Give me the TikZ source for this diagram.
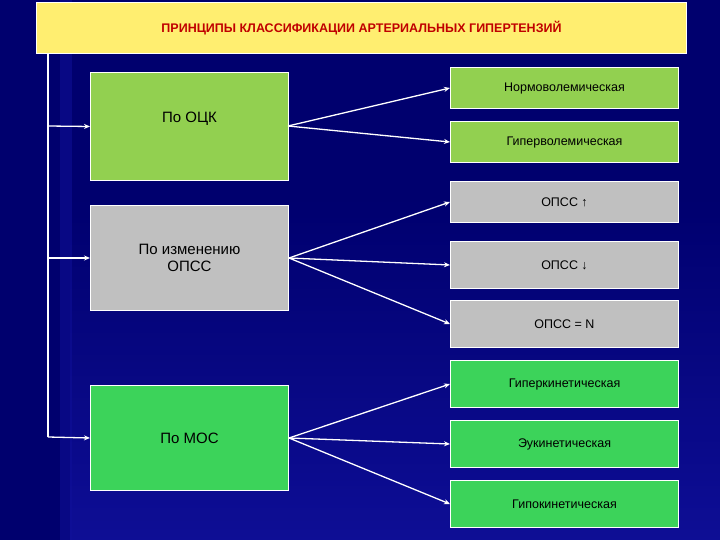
\documentclass[tikz,border=0pt]{standalone}
\usepackage{fontspec}
\setmainfont{Liberation Sans}
\usetikzlibrary{arrows.meta}
\definecolor{navy}{HTML}{00006E}
\definecolor{navyl}{HTML}{10109A}
\definecolor{ttl}{HTML}{FFEE70}
\definecolor{ttlred}{HTML}{C00000}
\definecolor{lgreen}{HTML}{92D050}
\definecolor{bgreen}{HTML}{3CD35A}
\definecolor{lgray}{HTML}{C0C0C0}
\tikzset{
 box/.style={draw=white, line width=1pt, anchor=north west, inner sep=0pt, align=center, font=\fontsize{15}{17}\selectfont},
 rbox/.style={draw=white, line width=1pt, anchor=north west, minimum width=228pt, inner sep=0pt, align=center, font=\fontsize{12.5}{14}\selectfont},
 arr/.style={white, line width=1.3pt, -{Stealth[length=6pt,width=5pt]}}
}
\begin{document}
\begin{tikzpicture}[x=1pt,y=-1pt]
\useasboundingbox (0,0) rectangle (720,540);
\fill[navy] (0,0) rectangle (720,540);
\shade[top color=navy, bottom color=navyl, opacity=0.9] (70,190) rectangle (720,540);
\fill[navyl,opacity=0.5] (60,0) rectangle (72,540);
\node[box, fill=ttl, minimum width=650pt, minimum height=51pt, font=\bfseries\fontsize{12.5}{14}\selectfont, text=ttlred] (t) at (36,2) {ПРИНЦИПЫ КЛАССИФИКАЦИИ АРТЕРИАЛЬНЫХ ГИПЕРТЕНЗИЙ};
\coordinate (top) at (48,53);
\coordinate (bot) at (48,437);
\draw[white, line width=1.3pt] (top) -- (bot);
\node[box, fill=lgreen, minimum width=198pt, minimum height=108pt] (a) at (90,72) {\raisebox{18pt}{По ОЦК}};
\node[box, fill=lgray, minimum width=198pt, minimum height=105pt] (b) at (90,205) {По изменению\\ОПСС};
\node[box, fill=bgreen, minimum width=198pt, minimum height=105pt] (c) at (90,385) {\raisebox{0pt}{По МОС}};
\coordinate (ja) at (48,126);
\coordinate (jb) at (48,258);
\coordinate (jc) at (48,437);
\draw[arr] (ja) -- (a.west);
\draw[arr] (jb) -- (b.west);
\draw[arr] (jc) -- (c.west);
\node[rbox, fill=lgreen, minimum height=41pt] (r1) at (450,67) {Нормоволемическая};
\node[rbox, fill=lgreen, minimum height=41pt] (r2) at (450,121) {Гиперволемическая};
\node[rbox, fill=lgray, minimum height=41pt] (r3) at (450,181) {ОПСС ↑};
\node[rbox, fill=lgray, minimum height=47pt] (r4) at (450,241) {ОПСС ↓};
\node[rbox, fill=lgray, minimum height=47pt] (r5) at (450,300) {ОПСС = N};
\node[rbox, fill=bgreen, minimum height=47pt] (r6) at (450,360) {Гиперкинетическая};
\node[rbox, fill=bgreen, minimum height=47pt] (r7) at (450,420) {Эукинетическая};
\node[rbox, fill=bgreen, minimum height=47pt] (r8) at (450,480) {Гипокинетическая};
\coordinate (ao) at (288,126);
\draw[arr] (ao) -- (r1.west);
\draw[arr] (ao) -- (r2.west);
\draw[arr] (b.east) -- (r3.west);
\draw[arr] (b.east) -- (r4.west);
\draw[arr] (b.east) -- (r5.west);
\draw[arr] (c.east) -- (r6.west);
\draw[arr] (c.east) -- (r7.west);
\draw[arr] (c.east) -- (r8.west);
\end{tikzpicture}
\end{document}
